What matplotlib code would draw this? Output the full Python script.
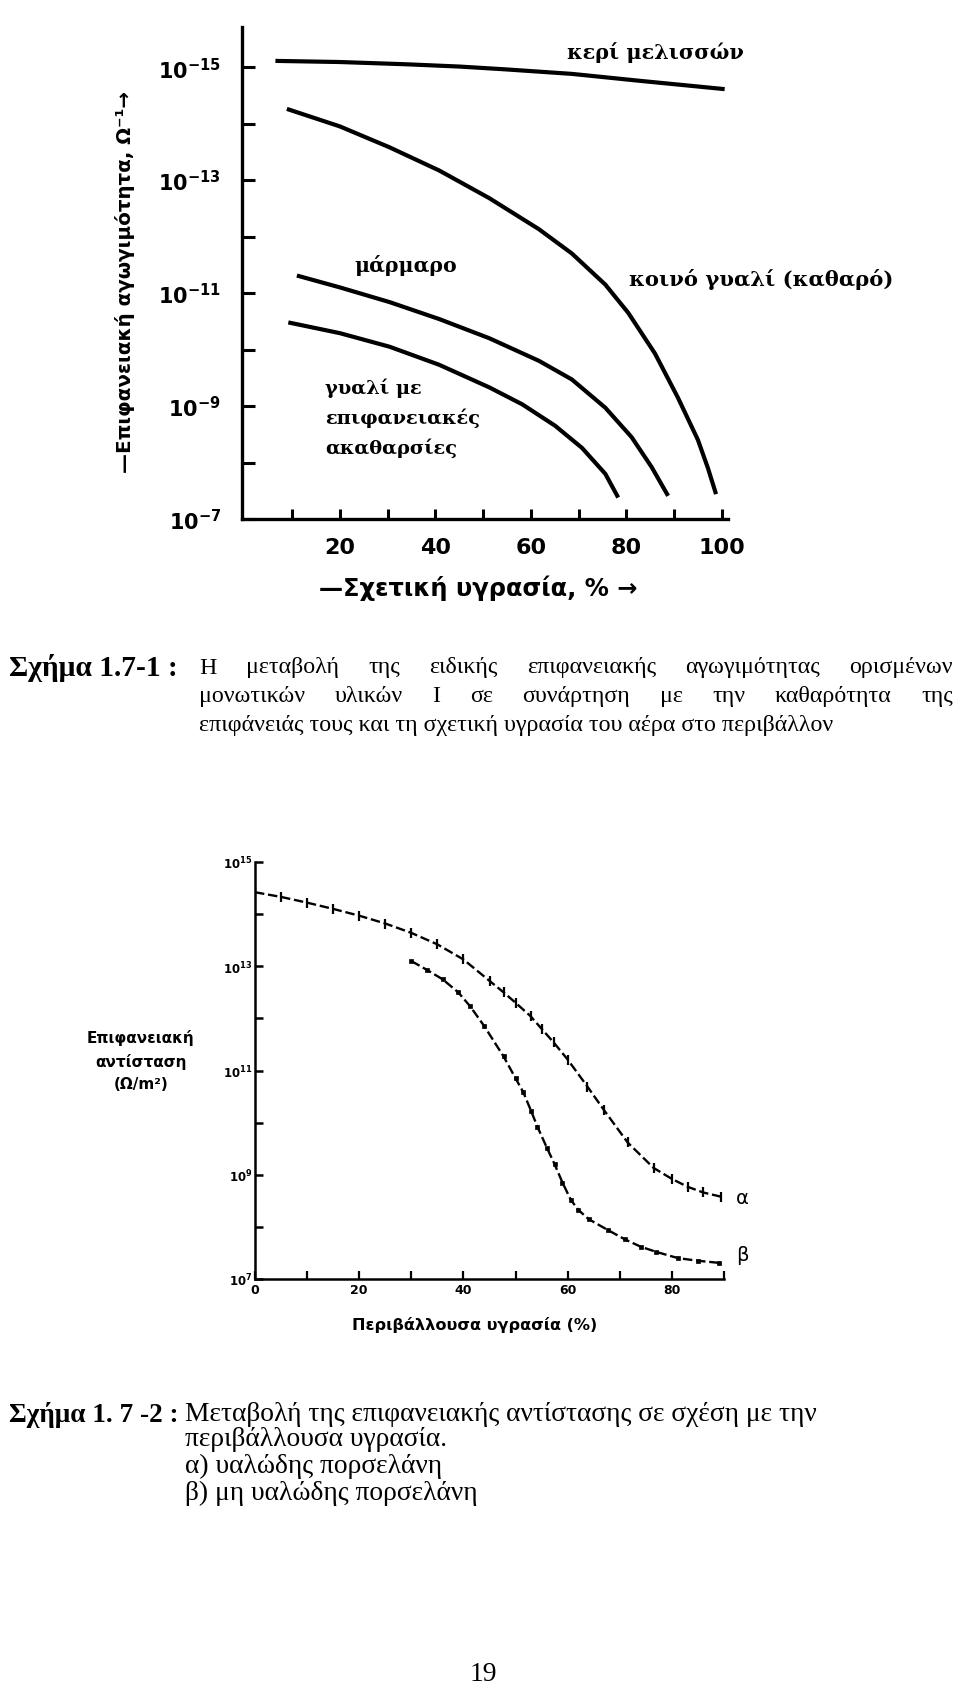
import matplotlib
matplotlib.use("Agg")
import matplotlib.pyplot as plt
import numpy as np
from matplotlib.ticker import FixedLocator, FixedFormatter, NullFormatter

# ---------------- data: Figure 1.7-1 (surface conductivity, log10 of value) ----------------
rh_wax = [6.5, 20, 33.9, 45, 54.7, 68.6, 82.5, 100.6]
log_wax = [-15.11, -15.09, -15.05, -15.01, -14.96, -14.88, -14.76, -14.61]

rh_glass = [8.9, 20, 30.4, 40.8, 51.3, 61.7, 68.6, 75.6, 80.4, 86, 90.8, 95, 97.1, 98.8]
log_glass = [-14.26, -13.95, -13.58, -13.17, -12.68, -12.13, -11.7, -11.15, -10.65, -9.93,
             -9.15, -8.4, -7.9, -7.44]

rh_marble = [11, 20, 30.4, 40.8, 51.3, 61.7, 68.6, 75.6, 81.1, 85.3, 88.75]
log_marble = [-11.31, -11.1, -10.84, -10.54, -10.2, -9.8, -9.47, -8.97, -8.45, -7.92, -7.41]

rh_dirty = [9.2, 20, 30.4, 40.8, 51.3, 58.2, 65.1, 70.7, 75.6, 78.3]
log_dirty = [-10.48, -10.29, -10.05, -9.73, -9.33, -9.03, -8.65, -8.26, -7.8, -7.38]

top_xticks = [20, 40, 60, 80, 100]
top_xminor = [10, 30, 50, 70, 90]
top_yexp_major = [-15, -13, -11, -9, -7]
top_yexp_minor = [-14, -12, -10, -8]

# ---------------- data: Figure 1.7-2 (surface resistance, log10 of value) ----------------
rh_a = [0, 5, 10, 15, 20, 25, 30, 35, 40, 45, 47.7, 50, 52.9, 55, 57.3, 60, 63.8, 66.9,
        71.5, 76.5, 80, 83, 86, 89.4]
log_a = [14.42, 14.33, 14.22, 14.10, 13.97, 13.82, 13.64, 13.42, 13.13, 12.72, 12.5, 12.3,
         12.04, 11.8, 11.54, 11.21, 10.69, 10.25, 9.62, 9.13, 8.92, 8.77, 8.66, 8.58]

rh_b = [30, 33, 36, 39, 41.3, 44, 47.7, 50, 51.5, 53, 54.2, 56, 57.5, 59, 60.6, 62, 64,
        67.7, 71, 74, 77, 81.2, 85, 89]
log_b = [13.10, 12.93, 12.75, 12.5, 12.23, 11.85, 11.27, 10.85, 10.58, 10.22, 9.92, 9.52,
         9.2, 8.85, 8.52, 8.33, 8.15, 7.94, 7.76, 7.62, 7.52, 7.40, 7.35, 7.31]

bot_xticks = [0, 20, 40, 60, 80]
bot_xminor = [10, 30, 50, 70, 90]
bot_yexp_major = [15, 13, 11, 9, 7]
bot_yexp_minor = [14, 12, 10, 8]

# ---------------- texts ----------------
top_curve_labels = ["κερί μελισσών", "κοινό γυαλί (καθαρό)", "μάρμαρο"]
dirty_label = ["γυαλί με", "επιφανειακές", "ακαθαρσίες"]
top_ylabel = "—Επιφανειακή αγωγιμότητα, Ω⁻¹→"
top_xlabel = "—Σχετική υγρασία, % →"
bot_ylabel = ["Επιφανειακή", "αντίσταση", "(Ω/m²)"]
bot_xlabel = "Περιβάλλουσα υγρασία (%)"
cap1_head = "Σχήμα 1.7-1 :"
cap1_lines = ["Η μεταβολή της ειδικής επιφανειακής αγωγιμότητας ορισμένων",
              "μονωτικών υλικών Ι σε συνάρτηση με την καθαρότητα της",
              "επιφάνειάς τους και τη σχετική υγρασία του αέρα στο περιβάλλον"]
cap2_head = "Σχήμα 1. 7 -2 :"
cap2_lines = ["Μεταβολή της επιφανειακής αντίστασης σε σχέση με την",
              "περιβάλλουσα υγρασία.",
              "α) υαλώδης πορσελάνη",
              "β) μη υαλώδης πορσελάνη"]
page_no = "19"

W, H = 960, 1690
fig = plt.figure(figsize=(W / 100, H / 100), dpi=100)
fig.patch.set_facecolor("white")
renderer = fig.canvas.get_renderer()


def axes_px(l, t, r, b):
    return fig.add_axes([l / W, 1 - b / H, (r - l) / W, (b - t) / H])


def put(s, px, py, target=None, size=12, dim="w", **kw):
    kw.setdefault("ha", "center")
    kw.setdefault("va", "center")
    t = fig.text(px / W, 1 - py / H, s, fontsize=size, **kw)
    if target:
        bb = t.get_window_extent(renderer)
        cur = bb.width if dim == "w" else bb.height
        t.set_fontsize(size * target / cur)
    return t


def fit_size(s, target, size=12, **kw):
    t = fig.text(0, 0, s, fontsize=size, **kw)
    w = t.get_window_extent(renderer).width
    t.remove()
    return size * target / w


def justify(line, x0, x1, py, size, **kw):
    words = line.split()
    texts = [fig.text(0, 1 - py / H, w, fontsize=size, ha="left", va="center", **kw) for w in words]
    widths = [t.get_window_extent(renderer).width for t in texts]
    gap = (x1 - x0 - sum(widths)) / (len(words) - 1)
    x = x0
    for t, w in zip(texts, widths):
        t.set_x(x / W)
        x += w + gap


# ================= TOP CHART =================
ax1 = axes_px(242, 28, 728, 520)
ax1.set_yscale("log")
ax1.set_xlim(-0.5, 101.3)
ax1.set_ylim(1e-7, 10 ** -15.71)
for xs, ls in [(rh_wax, log_wax), (rh_glass, log_glass), (rh_marble, log_marble), (rh_dirty, log_dirty)]:
    ax1.plot(xs, 10.0 ** np.array(ls), color="black", lw=3.0, solid_capstyle="butt",
             solid_joinstyle="round")
for s in ["top", "right"]:
    ax1.spines[s].set_visible(False)
for s in ["left", "bottom"]:
    ax1.spines[s].set_linewidth(2.4)
ax1.xaxis.set_major_locator(FixedLocator(top_xticks))
ax1.xaxis.set_minor_locator(FixedLocator(top_xminor))
ax1.xaxis.set_major_formatter(FixedFormatter([str(v) for v in top_xticks]))
ax1.xaxis.set_minor_formatter(NullFormatter())
ax1.yaxis.set_major_locator(FixedLocator([10.0 ** e for e in top_yexp_major]))
ax1.yaxis.set_minor_locator(FixedLocator([10.0 ** e for e in top_yexp_minor]))
ax1.yaxis.set_major_formatter(FixedFormatter([r"$\mathbf{10^{%d}}$" % e for e in top_yexp_major]))
ax1.yaxis.set_minor_formatter(NullFormatter())
ax1.tick_params(axis="x", which="both", direction="in", length=7, width=2.2, pad=13,
                labelsize=16)
ax1.tick_params(axis="y", which="both", direction="in", length=9.5, width=2.2, pad=15,
                labelsize=15)
for lab in ax1.get_xticklabels():
    lab.set_fontweight("bold")

serif_b = dict(family="DejaVu Serif", fontweight="bold")
put(top_curve_labels[0], 655, 53, target=176, **serif_b)
put(top_curve_labels[1], 761, 280, target=263, **serif_b)
put(top_curve_labels[2], 406, 265, target=102, **serif_b)
sz = fit_size(dirty_label[1], 155, **serif_b)
for s, py in zip(dirty_label, [388, 418, 448]):
    put(s, 325, py, size=sz, ha="left", **serif_b)

sans_b = dict(family="DejaVu Sans", fontweight="bold")
put(top_ylabel, 125, 282, target=381, dim="h", rotation=90, **sans_b)
put(top_xlabel, 478, 588, target=317, **sans_b)

# ================= BOTTOM CHART =================
ax2 = axes_px(255, 863, 724, 1280)
ax2.set_yscale("log")
ax2.set_xlim(0, 90)
ax2.set_ylim(1e7, 1e15)
ax2.plot(rh_a, 10.0 ** np.array(log_a), color="black", lw=1.7, ls=(0, (4, 1.6)),
         marker="|", ms=7, mew=1.6)
ax2.plot(rh_b, 10.0 ** np.array(log_b), color="black", lw=1.7, ls=(0, (4, 1.6)),
         marker="s", ms=3.2, mew=0.5)
for s in ["top", "right"]:
    ax2.spines[s].set_visible(False)
for s in ["left", "bottom"]:
    ax2.spines[s].set_linewidth(1.8)
ax2.xaxis.set_major_locator(FixedLocator(bot_xticks))
ax2.xaxis.set_minor_locator(FixedLocator(bot_xminor))
ax2.xaxis.set_major_formatter(FixedFormatter([str(v) for v in bot_xticks]))
ax2.xaxis.set_minor_formatter(NullFormatter())
ax2.yaxis.set_major_locator(FixedLocator([10.0 ** e for e in bot_yexp_major]))
ax2.yaxis.set_minor_locator(FixedLocator([10.0 ** e for e in bot_yexp_minor]))
ax2.yaxis.set_major_formatter(FixedFormatter([r"$\mathbf{10^{%d}}$" % e for e in bot_yexp_major]))
ax2.yaxis.set_minor_formatter(NullFormatter())
ax2.tick_params(axis="x", which="both", direction="in", length=5.5, width=1.6, pad=3,
                labelsize=9)
ax2.tick_params(axis="y", which="both", direction="in", length=6, width=1.8, pad=2,
                labelsize=8.5)
for lab in ax2.get_xticklabels():
    lab.set_fontweight("bold")

put("α", 742, 1199, size=14)
put("β", 742, 1256, size=14)
sz2 = fit_size(bot_ylabel[0], 108, **sans_b)
for s, py in zip(bot_ylabel, [1038, 1062, 1085]):
    put(s, 141, py, size=sz2, **sans_b)
put(bot_xlabel, 475, 1325, target=244, **sans_b)

# ================= CAPTIONS =================
serif = dict(family="Liberation Serif")
hsz1 = fit_size(cap1_head, 169, fontweight="bold", **serif)
put(cap1_head, 9, 668, size=hsz1, ha="left", fontweight="bold", **serif)
csz2 = fit_size(cap2_lines[0], 634, **serif)
csz1 = 0.5 * (fit_size(cap1_lines[2], 544, **serif) + csz2)
justify(cap1_lines[0], 199, 953, 668, csz1, **serif)
justify(cap1_lines[1], 199, 953, 697, csz1, **serif)
put(cap1_lines[2], 199, 726, size=csz1, ha="left", **serif)

hsz2 = fit_size(cap2_head, 170, fontweight="bold", **serif)
put(cap2_head, 9, 1415, size=hsz2, ha="left", fontweight="bold", **serif)
for s, py in zip(cap2_lines, [1415, 1440, 1466, 1493]):
    put(s, 185, py, size=csz2, ha="left", **serif)
put(page_no, 483, 1675, size=csz2, **serif)

fig.savefig("out.png", dpi=100, facecolor="white")
